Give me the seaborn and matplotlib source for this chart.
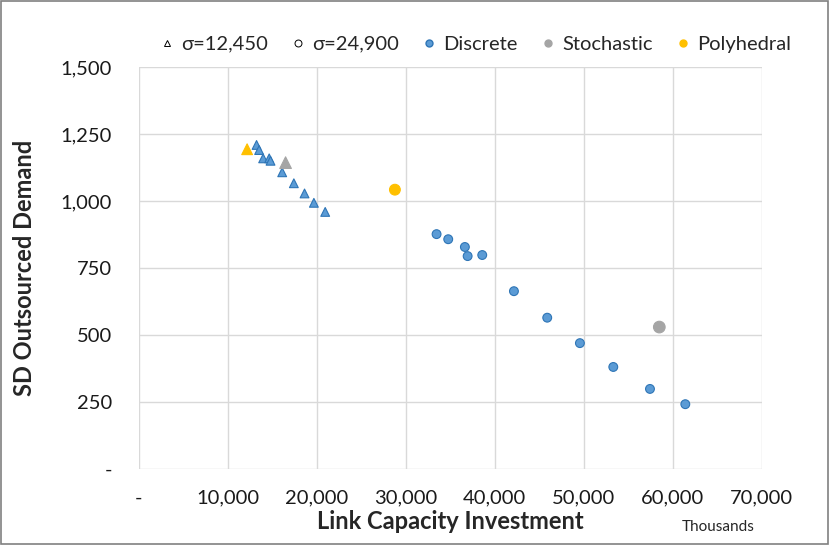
import pandas as pd
import seaborn as sns
import matplotlib.pyplot as plt
from matplotlib.lines import Line2D
from matplotlib.ticker import FuncFormatter

# Datos (inversión en miles, demanda externalizada SD)
disc_tri_x = [13260, 13550, 14000, 14680, 14830, 16140, 17450, 18650, 19700, 20970]
disc_tri_y = [1210, 1191, 1160, 1160, 1151, 1108, 1067, 1029, 994, 960]
disc_circ_x = [33480, 34790, 36660, 36970, 38610, 42170, 45910, 49580, 53330, 57450, 61420]
disc_circ_y = [877, 858, 829, 795, 799, 664, 565, 470, 381, 299, 242]
stoch_x = [16520, 58500]
stoch_y = [1144, 530]
poly_x = [12200, 28800]
poly_y = [1194, 1043]
sigmas = ['σ=12,450', 'σ=24,900']
methods = ['Discrete', 'Stochastic', 'Polyhedral']
x_ticks = [0, 10000, 20000, 30000, 40000, 50000, 60000, 70000]
y_ticks = [0, 250, 500, 750, 1000, 1250, 1500]

rows = []
for x, y in zip(disc_tri_x, disc_tri_y):
    rows.append(('Discrete', sigmas[0], x, y))
for x, y in zip(disc_circ_x, disc_circ_y):
    rows.append(('Discrete', sigmas[1], x, y))
for i in range(2):
    rows.append(('Stochastic', sigmas[i], stoch_x[i], stoch_y[i]))
    rows.append(('Polyhedral', sigmas[i], poly_x[i], poly_y[i]))
df = pd.DataFrame(rows, columns=['method', 'sigma', 'invest', 'sd'])

colores = {'Discrete': '#5B9BD5', 'Stochastic': '#A5A5A5', 'Polyhedral': '#FFC000'}
bordes = {'Discrete': '#2E75B6', 'Stochastic': '#A5A5A5', 'Polyhedral': '#FFC000'}
tamanos = {'Discrete': 40, 'Stochastic': 70, 'Polyhedral': 60}
formas = {sigmas[0]: '^', sigmas[1]: 'o'}

sns.set_style('white')
plt.rcParams['font.family'] = ['Lato', 'DejaVu Sans']

fig = plt.figure(figsize=(8.3, 5.45), dpi=100)
ax = fig.add_axes([138.5 / 830, 1 - 469 / 545, (761.7 - 138.5) / 830, (469 - 67.3) / 545])

for m in methods:
    sub = df[df['method'] == m]
    sns.scatterplot(data=sub, x='invest', y='sd', style='sigma', markers=formas,
                    color=colores[m], edgecolor=bordes[m], linewidth=0.8,
                    s=tamanos[m], ax=ax, legend=False, zorder=3)

ax.set_xlim(0, 70000)
ax.set_ylim(0, 1500)
ax.set_xticks(x_ticks)
ax.set_yticks(y_ticks)
fmt = FuncFormatter(lambda v, p: '-' if v == 0 else f'{int(v):,}')
ax.xaxis.set_major_formatter(fmt)
ax.yaxis.set_major_formatter(fmt)
ax.grid(True, color='#D9D9D9', linewidth=1)
for s in ax.spines.values():
    s.set_visible(False)
ax.tick_params(length=0, labelsize=14.5, colors='#1a1a1a')
ax.tick_params(axis='x', pad=15)
ax.tick_params(axis='y', pad=19)

ax.set_xlabel('Link Capacity Investment', fontsize=17, fontweight='bold', labelpad=2)
ax.set_ylabel('SD Outsourced Demand', fontsize=17, fontweight='bold', labelpad=18)
fig.text(718 / 830, 1 - 527 / 545, 'Thousands', fontsize=11, ha='center', va='center')

# leyenda con marcadores de ejemplo
handles = [
    Line2D([], [], marker='^', ls='', mfc='white', mec='black', mew=0.7, ms=5),
    Line2D([], [], marker='o', ls='', mfc='white', mec='black', mew=0.7, ms=5),
    Line2D([], [], marker='o', ls='', mfc=colores['Discrete'], mec=bordes['Discrete'], ms=5),
    Line2D([], [], marker='o', ls='', mfc=colores['Stochastic'], mec=colores['Stochastic'], ms=5),
    Line2D([], [], marker='o', ls='', mfc=colores['Polyhedral'], mec=colores['Polyhedral'], ms=5),
]
fig.legend(handles, sigmas + methods, loc='center', bbox_to_anchor=(473 / 830, 1 - 44 / 545),
           ncol=5, frameon=False, fontsize=14.5, handletextpad=0.1, columnspacing=0.9,
           handlelength=1.2)

fig.patches.append(plt.Rectangle((0.001, 0.002), 0.997, 0.996, transform=fig.transFigure,
                                 fill=False, edgecolor='#808080', linewidth=1.2))

fig.savefig('out.png', dpi=100)
